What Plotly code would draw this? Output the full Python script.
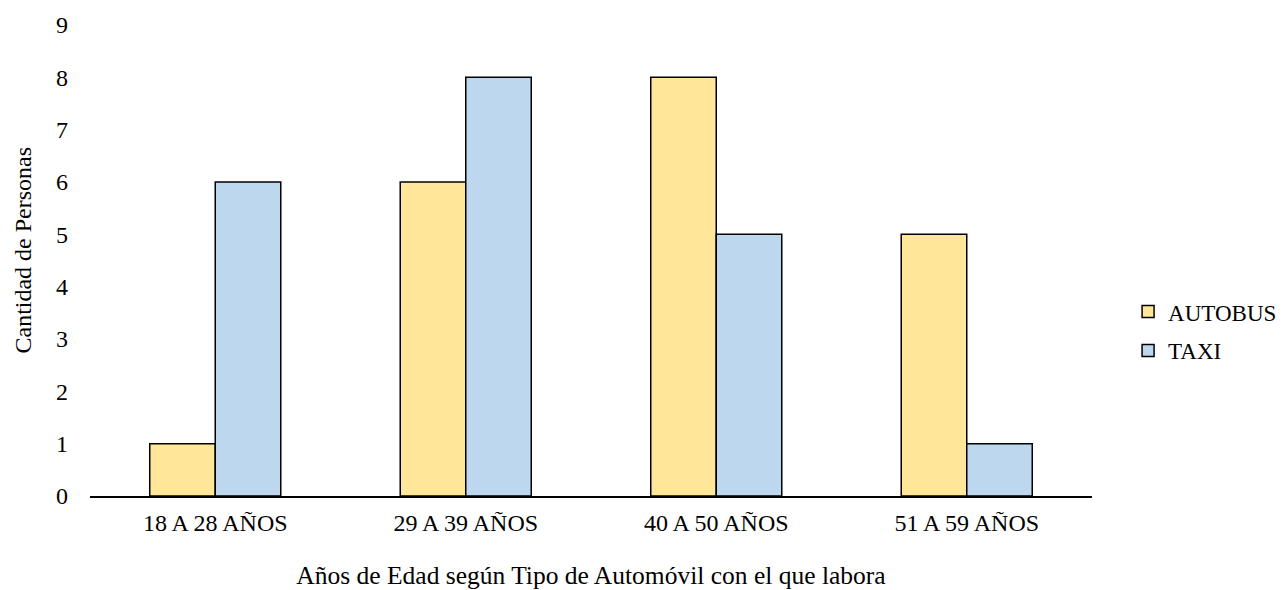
import plotly.graph_objects as go

categorias = ["18 A 28 AÑOS", "29 A 39 AÑOS", "40 A 50 AÑOS", "51 A 59 AÑOS"]
autobus = [1, 6, 8, 5]
taxi = [6, 8, 5, 1]

fuente = "Liberation Serif, Times New Roman, serif"

fig = go.Figure()
fig.add_trace(go.Bar(
    x=categorias, y=autobus, name="AUTOBUS",
    marker=dict(color="#FFE699", line=dict(color="#000000", width=1.5)),
    legendgroup="a",
))
fig.add_trace(go.Bar(
    x=categorias, y=taxi, name="TAXI",
    marker=dict(color="#BDD7EE", line=dict(color="#000000", width=1.5)),
    legendgroup="b",
))

# vertical axis title placed as an annotation so it can sit slightly above centre
fig.add_annotation(
    text="Cantidad de Personas", textangle=-90,
    xref="paper", yref="paper", x=-0.067, y=0.523,
    xanchor="center", yanchor="middle", showarrow=False,
    font=dict(family=fuente, size=24, color="#000000"),
)

fig.update_layout(
    width=1285, height=590,
    margin=dict(l=90, r=193, t=25, b=94, autoexpand=False),
    paper_bgcolor="white", plot_bgcolor="white",
    font=dict(family=fuente, size=24, color="#000000"),
    barmode="group", bargap=0.477, bargroupgap=0,
    showlegend=True,
    legend=dict(
        x=1.036, xanchor="left", y=0.35, yanchor="middle",
        font=dict(family=fuente, size=23),
        traceorder="grouped", tracegroupgap=6,
        itemwidth=30, borderwidth=0,
    ),
    xaxis=dict(
        title=dict(text="Años de Edad según Tipo de Automóvil con el que labora",
                   font=dict(size=25.5), standoff=33),
        showline=True, linecolor="#000000", linewidth=1.5,
        ticks="", showgrid=False, automargin=False,
        tickfont=dict(size=24), ticklabelstandoff=4,
    ),
    yaxis=dict(
        range=[0, 9], dtick=1, showgrid=False, zeroline=False,
        showline=False, ticks="", tickfont=dict(size=24), automargin=False,
        ticklabelstandoff=21,
    ),
)

fig.write_html("out.html")
